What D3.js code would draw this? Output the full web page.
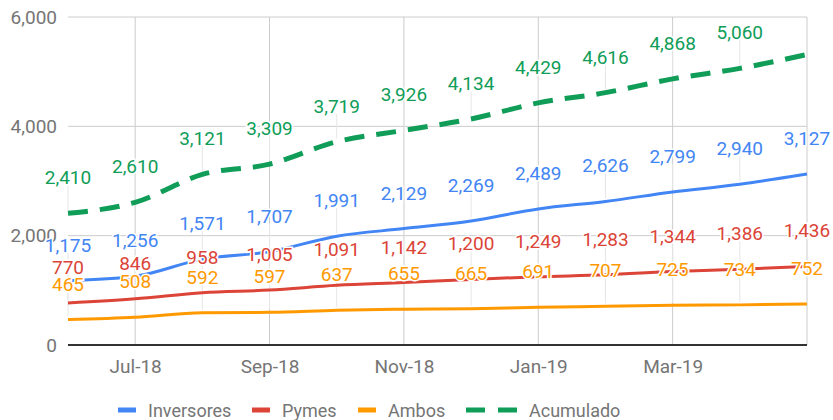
<!DOCTYPE html>
<html><head><meta charset="utf-8">
<script src="https://cdn.jsdelivr.net/npm/d3@7"></script>
<style>body{margin:0;background:#fff;}text{font-family:Roboto,sans-serif;}</style>
</head><body><svg id="c" width="833" height="420"></svg>
<script>
const months = ["Jun-18","Jul-18","Aug-18","Sep-18","Oct-18","Nov-18","Dec-18","Jan-19","Feb-19","Mar-19","Apr-19","May-19"];
const tickLabels = ["Jul-18","Sep-18","Nov-18","Jan-19","Mar-19"];
const gridMonths = ["Jul-18","Sep-18","Nov-18","Jan-19","Mar-19","May-19"];
const yTicks = [0,2000,4000,6000];
const inversores = [1175,1256,1571,1707,1991,2129,2269,2489,2626,2799,2940,3127];
const pymes = [770,846,958,1005,1091,1142,1200,1249,1283,1344,1386,1436];
const ambos = [465,508,592,597,637,655,665,691,707,725,734,752];
const acumulado = [2410,2610,3121,3309,3719,3926,4134,4429,4616,4868,5060,5315];
const acumuladoShown = [true,true,true,true,true,true,true,true,true,true,true,false];

const series = [
  {name:"Inversores", values:inversores, color:"#4285F4", width:3, dash:null},
  {name:"Pymes", values:pymes, color:"#DB4437", width:3, dash:null},
  {name:"Ambos", values:ambos, color:"#FF9900", width:3, dash:null},
  {name:"Acumulado", values:acumulado, color:"#0F9D58", width:5, dash:"20,12", shown:acumuladoShown}
];

const svg = d3.select("#c");
const x = d3.scalePoint().domain(months).range([68, 807]);
const y = d3.scaleLinear().domain([0,6000]).range([345, 17]);

// gridlines
svg.append("g").selectAll("line.h").data(yTicks.filter(d=>d>0)).join("line")
  .attr("x1",68).attr("x2",807).attr("y1",d=>y(d)).attr("y2",d=>y(d))
  .attr("stroke","#cccccc").attr("stroke-width",1);
svg.append("g").selectAll("line.v").data(gridMonths).join("line")
  .attr("x1",d=>x(d)).attr("x2",d=>x(d)).attr("y1",y(6000)).attr("y2",y(0))
  .attr("stroke","#cccccc").attr("stroke-width",1);

// y axis labels
const yAxis = d3.axisLeft(y).tickValues(yTicks).tickSize(0).tickPadding(11).tickFormat(d3.format(","));
const gy = svg.append("g").attr("transform","translate(68,0)").call(yAxis);
gy.select(".domain").remove();
gy.selectAll("text").attr("font-size",19).attr("fill","#757575").attr("font-family","Roboto");

// x axis labels
const xAxis = d3.axisBottom(x).tickValues(tickLabels).tickSize(0).tickPadding(15);
const gx = svg.append("g").attr("transform","translate(0,345)").call(xAxis);
gx.select(".domain").remove();
gx.selectAll("text").attr("font-size",19).attr("fill","#757575").attr("font-family","Roboto");

// stems
const OFF = 36;
series.forEach(s=>{
  svg.append("g").selectAll("line").data(s.values.map((v,i)=>({v,i})).filter(d=>!s.shown||s.shown[d.i])).join("line")
    .attr("x1",d=>x(months[d.i])).attr("x2",d=>x(months[d.i]))
    .attr("y1",d=>y(d.v)-3).attr("y2",d=>y(d.v)-OFF+8)
    .attr("stroke","#e6e6e6").attr("stroke-width",1);
});

// baseline
svg.append("line").attr("x1",68).attr("x2",807).attr("y1",y(0)).attr("y2",y(0))
  .attr("stroke","#333333").attr("stroke-width",2);

// lines
const line = d3.line().x((d,i)=>x(months[i])).y(d=>y(d)).curve(d3.curveMonotoneX);
series.forEach(s=>{
  svg.append("path").datum(s.values).attr("d",line).attr("fill","none")
    .attr("stroke",s.color).attr("stroke-width",s.width)
    .attr("stroke-dasharray",s.dash);
});

// labels
series.forEach(s=>{
  svg.append("g").selectAll("text").data(s.values.map((v,i)=>({v,i})).filter(d=>!s.shown||s.shown[d.i])).join("text")
    .attr("x",d=>x(months[d.i])).attr("y",d=>y(d.v)-OFF+7)
    .attr("text-anchor","middle").attr("font-size",19).attr("fill",s.color)
    .attr("stroke","#fff").attr("stroke-width",3).attr("paint-order","stroke")
    .text(d=>d3.format(",")(d.v));
});

// legend
const legendX = [118,252,358,466];
const lg = svg.append("g");
series.forEach((s,k)=>{
  const g = lg.append("g").attr("transform",`translate(${legendX[k]},410)`);
  if(s.dash){
    g.append("rect").attr("x",0).attr("y",-2.5).attr("width",19).attr("height",5).attr("fill",s.color);
    g.append("rect").attr("x",32).attr("y",-2.5).attr("width",19).attr("height",5).attr("fill",s.color);
    g.append("text").attr("x",63).attr("y",6.5).attr("font-size",18).attr("fill","#757575").text(s.name);
  } else {
    g.append("rect").attr("x",0).attr("y",-2.5).attr("width",18).attr("height",5).attr("fill",s.color);
    g.append("text").attr("x",30).attr("y",6.5).attr("font-size",18).attr("fill","#757575").text(s.name);
  }
});
</script></body></html>
